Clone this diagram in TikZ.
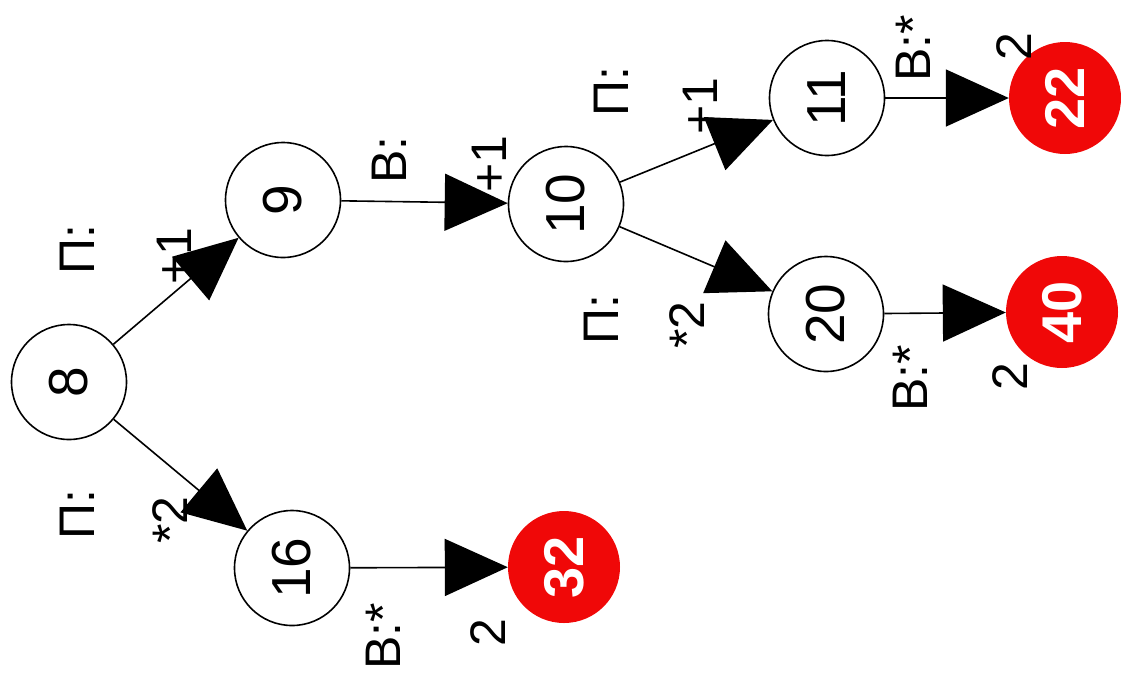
\documentclass[tikz,border=0pt]{standalone}
\usepackage{fontspec}
\setmainfont{Liberation Sans}
\usetikzlibrary{arrows.meta}
\definecolor{nodered}{RGB}{240,8,8}
\begin{document}
\begin{tikzpicture}[x=1pt,y=-1pt,
  state/.style={circle, draw, line width=1.6pt, minimum size=115pt, inner sep=0pt, rotate=90, font=\fontsize{55}{60}\selectfont},
  final/.style={circle, fill=nodered, minimum size=112pt, inner sep=0pt, rotate=90, text=white, font=\fontsize{56}{60}\selectfont\bfseries},
  lbl/.style={rotate=90, inner sep=0pt, font=\fontsize{50}{56}\selectfont},
  edge/.style={line width=1.6pt, -{Triangle[length=63pt,width=57pt]}}
]
\useasboundingbox (0,0) rectangle (1121,673);
% nodes
\node[state] (n8)  at (69,382)  {8};
\node[state] (n9)  at (283,200) {9};
\node[state] (n10) at (566,204) {10};
\node[state] (n11) at (827,98)  {11};
\node[state] (n20) at (826,314) {20};
\node[state] (n16) at (292,568) {16};
\node[final] (n22) at (1065,98)  {22};
\node[final] (n40) at (1062,312) {40};
\node[final] (n32) at (564,567)  {32};
% labels
\node[lbl] (l1)  at (77,250)  {П:};
\node[lbl] (l2)  at (174,256) {+1};
\node[lbl] (l3)  at (77,515)  {П:};
\node[lbl] (l4)  at (170,520) {*2};
\node[lbl] (l5)  at (389,160) {В:};
\node[lbl] (l6)  at (489,164) {+1};
\node[lbl] (l7)  at (611,92)  {П:};
\node[lbl] (l8)  at (700,106) {+1};
\node[lbl] (l9)  at (913,48)  {В:*};
\node[lbl] (l10) at (1014,47) {2};
\node[lbl] (l11) at (601,320) {П:};
\node[lbl] (l12) at (687,325) {*2};
\node[lbl] (l13) at (910,378) {В:*};
\node[lbl] (l14) at (1010,377) {2};
\node[lbl] (l15) at (383,636) {В:*};
\node[lbl] (l16) at (488,633) {2};
% edges
\draw[edge] (n8) -- (n9);
\draw[edge] (n8) -- (n16);
\draw[edge] (n9) -- (n10);
\draw[edge] (n10) -- (n11);
\draw[edge] (n10) -- (n20);
\draw[edge] (n11) -- (n22);
\draw[edge] (n20) -- (n40);
\draw[edge] (n16) -- (n32);
\end{tikzpicture}
\end{document}
